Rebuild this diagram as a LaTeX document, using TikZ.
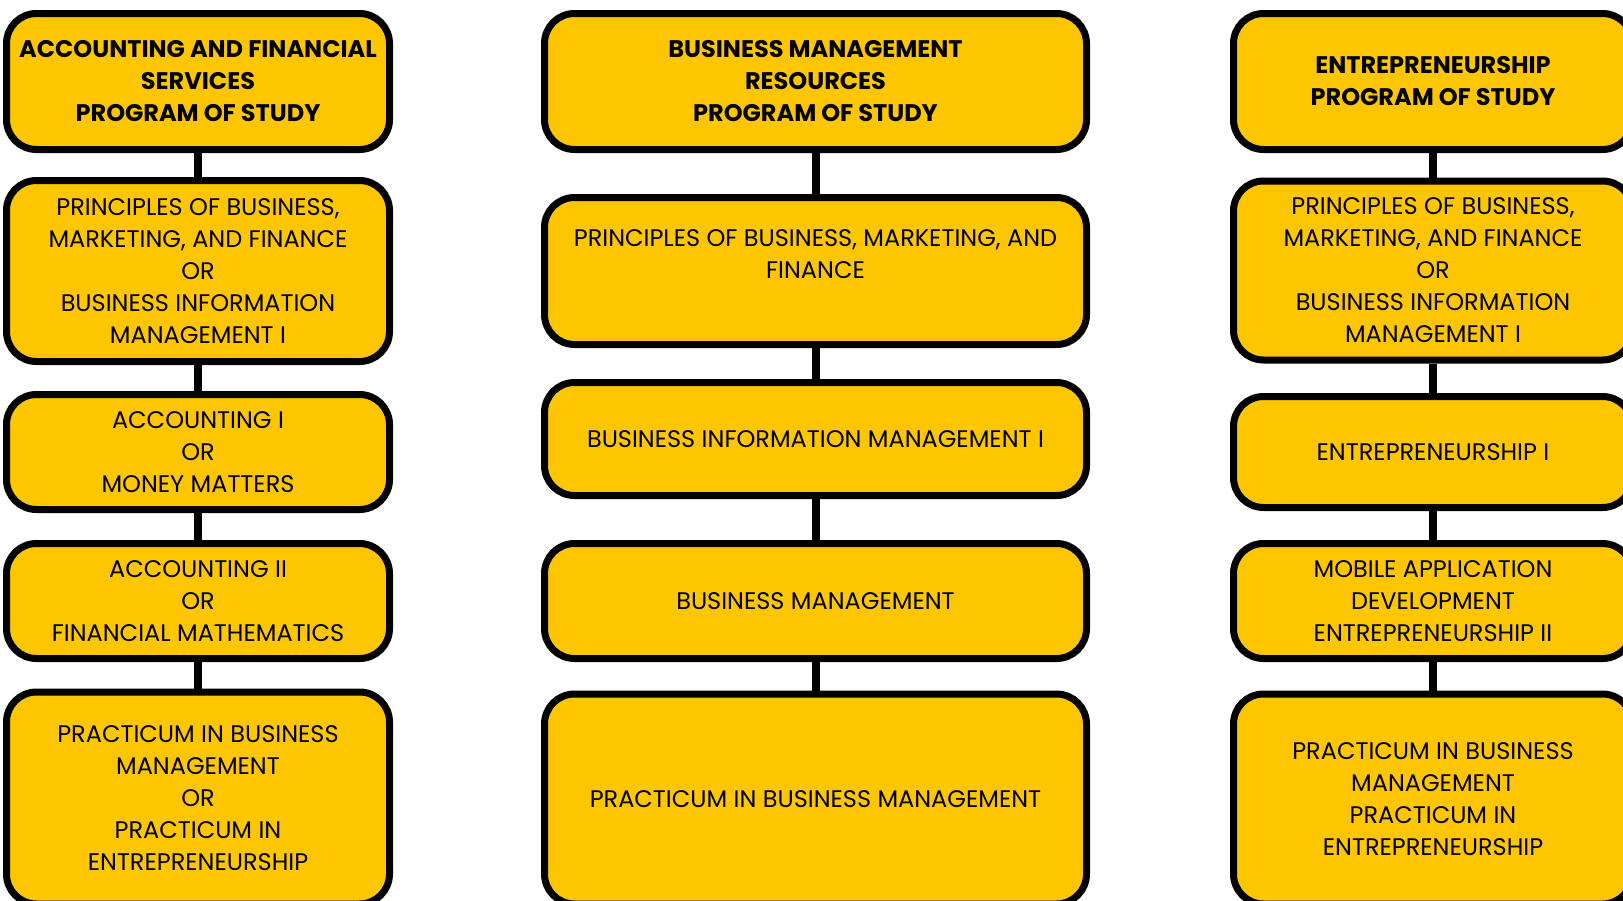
\documentclass[tikz,border=0pt]{standalone}
\usepackage{fontspec}
\setmainfont{Poppins}
\usepackage{tikz}
\usetikzlibrary{positioning}

\definecolor{gold}{RGB}{254,198,0}

\begin{document}
\begin{tikzpicture}[x=1pt, y=-1pt,
  box/.style={draw=black, line width=7pt, fill=gold, rounded corners=30pt,
    align=center, inner sep=0pt, font=\fontsize{24}{32}\selectfont},
  head/.style={box, font=\fontsize{24}{32}\selectfont\bfseries},
  txt/.style={align=center, inner sep=0pt, font=\fontsize{24}{32}\selectfont},
  link/.style={line width=8pt}]
  \useasboundingbox (0,0) rectangle (1623,900);
  \clip (0,0) rectangle (1623,900);

  % Left column
  \node[head, minimum width=383, minimum height=136] (acc) at (198,81.5)
    {ACCOUNTING AND FINANCIAL\\SERVICES\\PROGRAM OF STUDY};
  \node[box, minimum width=383, minimum height=181] (accA) at (198,271)
    {PRINCIPLES OF BUSINESS,\\MARKETING, AND FINANCE\\OR\\BUSINESS INFORMATION\\MANAGEMENT I};
  \node[box, minimum width=383, minimum height=115] (accB) at (198,452)
    {ACCOUNTING I\\OR\\MONEY MATTERS};
  \node[box, minimum width=383, minimum height=115] (accC) at (198,601)
    {ACCOUNTING II\\OR\\FINANCIAL MATHEMATICS};
  \node[box, minimum width=383, minimum height=212] (accD) at (198,798)
    {PRACTICUM IN BUSINESS\\MANAGEMENT\\OR\\PRACTICUM IN\\ENTREPRENEURSHIP};

  % Middle column
  \node[head, minimum width=542, minimum height=136] (bmr) at (815.5,81.5)
    {BUSINESS MANAGEMENT\\RESOURCES\\PROGRAM OF STUDY};
  \node[box, minimum width=542, minimum height=147] (bmrA) at (815.5,271) {};
  \node[txt] at ([yshift=17pt]bmrA.center)
    {PRINCIPLES OF BUSINESS, MARKETING, AND\\FINANCE};
  \node[box, minimum width=542, minimum height=113] (bmrB) at (815.5,439)
    {BUSINESS INFORMATION MANAGEMENT I};
  \node[box, minimum width=542, minimum height=115] (bmrC) at (815.5,601)
    {BUSINESS MANAGEMENT};
  \node[box, minimum width=542, minimum height=210] (bmrD) at (815.5,799)
    {PRACTICUM IN BUSINESS MANAGEMENT};

  % Right column
  \node[head, minimum width=399, minimum height=136] (ent) at (1433,81.5)
    {ENTREPRENEURSHIP\\PROGRAM OF STUDY};
  \node[box, minimum width=399, minimum height=179] (entA) at (1433,270.5)
    {PRINCIPLES OF BUSINESS,\\MARKETING, AND FINANCE\\OR\\BUSINESS INFORMATION\\MANAGEMENT I};
  \node[box, minimum width=399, minimum height=111] (entB) at (1433,452)
    {ENTREPRENEURSHIP I};
  \node[box, minimum width=399, minimum height=115] (entC) at (1433,601)
    {MOBILE APPLICATION\\DEVELOPMENT\\ENTREPRENEURSHIP II};
  \node[box, minimum width=399, minimum height=210] (entD) at (1433,799)
    {PRACTICUM IN BUSINESS\\MANAGEMENT\\PRACTICUM IN\\ENTREPRENEURSHIP};

  % Connectors
  \foreach \a/\b in {acc/accA, accA/accB, accB/accC, accC/accD,
                     bmr/bmrA, bmrA/bmrB, bmrB/bmrC, bmrC/bmrD,
                     ent/entA, entA/entB, entB/entC, entC/entD}
    \draw[link] (\a) -- (\b);
\end{tikzpicture}
\end{document}
